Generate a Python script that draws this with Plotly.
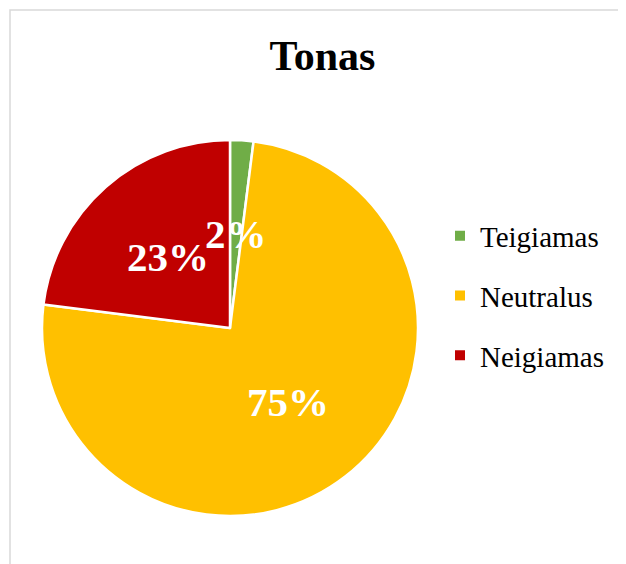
import math
import plotly.graph_objects as go

# ---- data ----
categories = ["Teigiamas", "Neutralus", "Neigiamas"]
values = [2, 75, 23]
colors = ["#70AD47", "#FFC000", "#C00000"]
title_text = "Tonas"

W, H = 626, 564
OFF = 8  # page body margin of the html page
SERIF = "Times New Roman, Liberation Serif, serif"


def fx(px):
    return (px - OFF) / W


def fy(py):
    return 1 - (py - OFF) / H


# pie placement (figure fraction, margins are zero)
dom_x = [fx(42), fx(418)]
dom_y = [fy(516), fy(140)]

fig = go.Figure()
fig.add_trace(go.Pie(
    labels=categories,
    values=values,
    marker=dict(colors=colors, line=dict(color="white", width=2.5)),
    sort=False,
    direction="clockwise",
    rotation=0,
    textinfo="none",
    showlegend=False,
    domain=dict(x=dom_x, y=dom_y),
    hoverinfo="label+percent",
))

# legend entries (one per category, sharing the slice colours)
for name, col in zip(categories, colors):
    fig.add_trace(go.Scatter(
        x=[None], y=[None], mode="markers", name=name,
        legendgroup=name,
        marker=dict(symbol="square", size=10, color=col),
        showlegend=True, hoverinfo="skip",
    ))

# percentage labels placed at the middle radius of each slice
cx = (dom_x[0] + dom_x[1]) / 2 * W
cy = (1 - (dom_y[0] + dom_y[1]) / 2) * H
r = min((dom_x[1] - dom_x[0]) * W, (dom_y[1] - dom_y[0]) * H) / 2
total = sum(values)
cum = 0
for v in values:
    theta = 2 * math.pi * (cum + v / 2) / total
    cum += v
    px = cx + 0.5 * r * math.sin(theta)
    py = cy - 0.5 * r * math.cos(theta)
    fig.add_annotation(
        x=px / W, y=1 - py / H, xref="paper", yref="paper",
        text=f"{round(100 * v / total)}%", showarrow=False,
        xanchor="center", yanchor="middle",
        font=dict(family=SERIF, size=41, color="white", weight="bold"),
    )

fig.update_layout(
    width=W, height=H,
    margin=dict(l=0, r=0, t=0, b=0),
    paper_bgcolor="white", plot_bgcolor="white",
    title=dict(text=title_text, x=fx(322.5), xanchor="center",
               y=fy(55), yanchor="middle", yref="container",
               font=dict(family=SERIF, size=42, color="black", weight="bold")),
    xaxis=dict(visible=False, range=[0, 1]),
    yaxis=dict(visible=False, range=[0, 1]),
    legend=dict(x=fx(440), y=fy(296), xanchor="left", yanchor="middle",
                font=dict(family=SERIF, size=29, color="black"),
                tracegroupgap=19, bgcolor="rgba(0,0,0,0)"),
    shapes=[dict(type="rect", xref="paper", yref="paper",
                 x0=fx(10), x1=1.2, y0=-0.2, y1=fy(10),
                 line=dict(color="#D9D9D9", width=1.5), fillcolor="rgba(0,0,0,0)",
                 layer="below")],
)

fig.write_html("out.html")
